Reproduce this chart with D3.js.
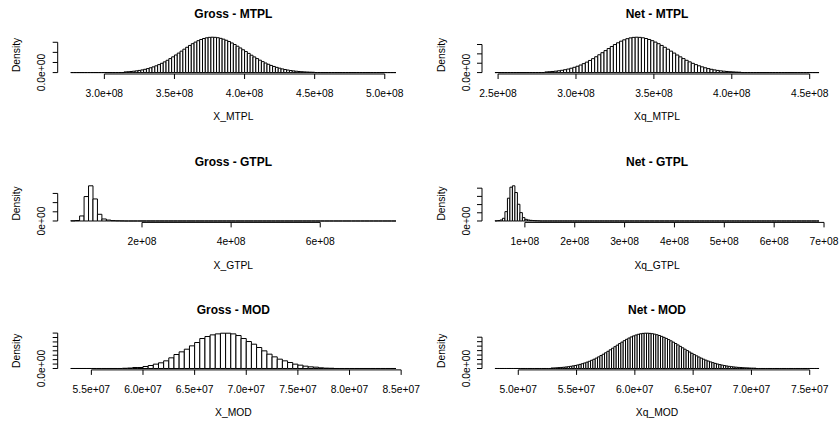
<!DOCTYPE html>
<html>
<head>
<meta charset="utf-8">
<script src="https://cdn.jsdelivr.net/npm/d3@7"></script>
<style>
  html, body { margin: 0; padding: 0; background: #fff; }
  svg { display: block; }
  text { font-family: "Liberation Sans", Arial, Helvetica, sans-serif; fill: #000; }
</style>
</head>
<body>
<svg id="chart" width="839" height="426"></svg>
<script>
// ---------- DATA (densities in units of 1e-8) ----------
const DENSITY_UNIT = 1e-8;

const panelTitles = ["Gross - MTPL", "Net - MTPL", "Gross - GTPL", "Net - GTPL", "Gross - MOD", "Net - MOD"];
const xLabels = ["X_MTPL", "Xq_MTPL", "X_GTPL", "Xq_GTPL", "X_MOD", "Xq_MOD"];

// histogram breaks: [first break, last break, bin width, first listed bin start]
const breaksGrossMTPL = [2.76e8, 5.08e8, 2e6, 3.14e8];
const breaksNetMTPL   = [2.48e8, 4.56e8, 2e6, 2.80e8];
const breaksGrossGTPL = [4e7, 7.7e8, 1e7, 4e7];
const breaksNetGTPL   = [4e7, 6.9e8, 5e6, 4e7];
const breaksGrossMOD  = [5.3e7, 8.45e7, 5e5, 5.8e7];
const breaksNetMOD    = [4.8e7, 7.58e7, 2e5, 5.28e7];

const densGrossMTPL = [0.033,0.042,0.054,0.069,0.086,0.107,0.132,0.162,0.197,0.237,0.283,0.335,0.394,0.459,0.530,0.608,0.691,0.779,0.871,0.965,1.061,1.158,1.252,1.343,1.429,1.508,1.578,1.638,1.686,1.721,1.743,
  1.750,
  1.744,1.725,1.694,1.652,1.599,1.536,1.465,1.388,1.305,1.218,1.129,1.039,0.949,0.860,0.775,0.692,0.614,0.541,0.473,0.411,0.354,0.303,0.258,0.217,0.182,0.151,0.125,0.102,0.083,0.067,0.054,0.043,0.034,0.027,0.021,0.016];

const densNetMTPL = [0.035,0.045,0.059,0.076,0.097,0.122,0.153,0.189,0.232,0.282,0.339,0.404,0.478,0.559,0.648,0.744,0.846,0.952,1.063,1.174,1.285,1.394,1.497,1.592,1.678,1.751,1.811,1.854,1.881,
  1.890,
  1.882,1.859,1.821,1.769,1.704,1.629,1.544,1.451,1.352,1.250,1.146,1.043,0.940,0.841,0.746,0.656,0.573,0.495,0.425,0.362,0.306,0.256,0.212,0.175,0.143,0.116,0.093,0.074,0.059,0.046,0.036,0.027,0.021];

const densGrossGTPL = [0.02,0.05,0.55,2.66,3.83,2.40,0.73,0.22,0.10,0.04,0.02,0.01];

const densNetGTPL = [0.02,0.05,0.12,0.33,1.14,2.78,4.12,4.29,3.47,2.04,1.02,0.41,0.20,0.12,0.08,0.05,0.03,0.02];

const densGrossMOD = [0.10,0.20,0.45,0.45,0.90,1.35,1.96,2.56,3.46,4.81,6.32,7.52,8.72,10.23,11.73,13.54,14.44,15.19,15.64,15.94,
  15.94,15.64,14.89,13.54,12.18,10.98,9.48,7.97,6.47,5.26,4.21,3.46,2.71,1.96,1.50,1.05,0.75,0.60,0.30,0.15,0.10];

const densNetMOD = [0.21,0.25,0.31,0.38,0.47,0.56,0.68,0.81,0.97,1.15,1.35,1.58,1.84,2.14,2.47,2.83,3.23,3.67,4.14,4.65,5.20,5.78,6.39,7.03,7.69,8.37,9.06,9.76,10.45,11.14,11.80,12.45,13.05,13.62,14.13,14.58,14.98,15.30,15.54,15.71,15.79,
  15.79,15.72,15.58,15.38,15.10,14.77,14.38,13.94,13.46,12.93,12.37,11.78,11.17,10.54,9.90,9.26,8.63,8.00,7.38,6.79,6.21,5.66,5.13,4.63,4.16,3.72,3.32,2.94,2.60,2.28,2.00,1.74,1.51,1.31,1.12,0.96,0.82,0.69,0.59,0.49,0.41,0.34,0.29,0.24,0.19,0.16,0.13];

// axis ticks
const xTicksGrossMTPL = [3.0e8, 3.5e8, 4.0e8, 4.5e8, 5.0e8];
const xTickLabelsGrossMTPL = ["3.0e+08", "3.5e+08", "4.0e+08", "4.5e+08", "5.0e+08"];
const xTicksNetMTPL = [2.5e8, 3.0e8, 3.5e8, 4.0e8, 4.5e8];
const xTickLabelsNetMTPL = ["2.5e+08", "3.0e+08", "3.5e+08", "4.0e+08", "4.5e+08"];
const xTicksGrossGTPL = [2e8, 4e8, 6e8];
const xTickLabelsGrossGTPL = ["2e+08", "4e+08", "6e+08"];
const xTicksNetGTPL = [1e8, 2e8, 3e8, 4e8, 5e8, 6e8, 7e8];
const xTickLabelsNetGTPL = ["1e+08", "2e+08", "3e+08", "4e+08", "5e+08", "6e+08", "7e+08"];
const xTicksGrossMOD = [5.5e7, 6.0e7, 6.5e7, 7.0e7, 7.5e7, 8.0e7, 8.5e7];
const xTickLabelsGrossMOD = ["5.5e+07", "6.0e+07", "6.5e+07", "7.0e+07", "7.5e+07", "8.0e+07", "8.5e+07"];
const xTicksNetMOD = [5.0e7, 5.5e7, 6.0e7, 6.5e7, 7.0e7, 7.5e7];
const xTickLabelsNetMOD = ["5.0e+07", "5.5e+07", "6.0e+07", "6.5e+07", "7.0e+07", "7.5e+07"];

const yTicksGrossMTPL = [0, 0.5, 1.0, 1.5];
const yTickLabelsGrossMTPL = ["0.0e+00", "5.0e-09", "1.0e-08", "1.5e-08"];
const yTicksNetMTPL = [0, 0.5, 1.0, 1.5];
const yTickLabelsNetMTPL = ["0.0e+00", "5.0e-09", "1.0e-08", "1.5e-08"];
const yTicksGrossGTPL = [0, 1, 2, 3];
const yTickLabelsGrossGTPL = ["0e+00", "1e-08", "2e-08", "3e-08"];
const yTicksNetGTPL = [0, 1, 2, 3, 4];
const yTickLabelsNetGTPL = ["0e+00", "1e-08", "2e-08", "3e-08", "4e-08"];
const yTicksGrossMOD = [0, 2, 4, 6, 8, 10, 12, 14, 16];
const yTickLabelsGrossMOD = ["0.0e+00", "2.0e-08", "4.0e-08", "6.0e-08", "8.0e-08", "1.0e-07", "1.2e-07", "1.4e-07", "1.6e-07"];
const yTicksNetMOD = [0, 2, 4, 6, 8, 10, 12, 14];
const yTickLabelsNetMOD = ["0.0e+00", "2.0e-08", "4.0e-08", "6.0e-08", "8.0e-08", "1.0e-07", "1.2e-07", "1.4e-07"];

// ---------- LAYOUT ----------
const colX = [[57.7, 409], [482, 832]];
const rowY = [[35.8, 74], [184.4, 222.4], [331.8, 369.9]];

const panels = [
  { breaks: breaksGrossMTPL, dens: densGrossMTPL, xt: xTicksGrossMTPL, xtl: xTickLabelsGrossMTPL, yt: yTicksGrossMTPL, ytl: yTickLabelsGrossMTPL },
  { breaks: breaksNetMTPL,   dens: densNetMTPL,   xt: xTicksNetMTPL,   xtl: xTickLabelsNetMTPL,   yt: yTicksNetMTPL,   ytl: yTickLabelsNetMTPL },
  { breaks: breaksGrossGTPL, dens: densGrossGTPL, xt: xTicksGrossGTPL, xtl: xTickLabelsGrossGTPL, yt: yTicksGrossGTPL, ytl: yTickLabelsGrossGTPL },
  { breaks: breaksNetGTPL,   dens: densNetGTPL,   xt: xTicksNetGTPL,   xtl: xTickLabelsNetGTPL,   yt: yTicksNetGTPL,   ytl: yTickLabelsNetGTPL },
  { breaks: breaksGrossMOD,  dens: densGrossMOD,  xt: xTicksGrossMOD,  xtl: xTickLabelsGrossMOD,  yt: yTicksGrossMOD,  ytl: yTickLabelsGrossMOD },
  { breaks: breaksNetMOD,    dens: densNetMOD,    xt: xTicksNetMOD,    xtl: xTickLabelsNetMOD,    yt: yTicksNetMOD,    ytl: yTickLabelsNetMOD }
];

const svg = d3.select("#chart");
const TICK = 5;
const AXIS_FONT = 10.3;
const TITLE_FONT = 12;
const LABEL_GAP = 9; // R gap.axis ~ one 'm' width

panels.forEach((p, k) => {
  const col = k % 2, row = Math.floor(k / 2);
  const [x0, x1] = colX[col];
  const [top, bottom] = rowY[row];
  const [lo, hi, bw, first] = p.breaks;

  // bins over the full breaks range
  const nb = Math.round((hi - lo) / bw);
  const bins = d3.range(nb).map(i => {
    const a = lo + i * bw;
    const idx = Math.round((a - first) / bw);
    const d = (idx >= 0 && idx < p.dens.length) ? p.dens[idx] * DENSITY_UNIT : 0;
    return { a, b: a + bw, d };
  });

  const pad = 0.04 * (hi - lo);
  const x = d3.scaleLinear().domain([lo - pad, hi + pad]).range([x0, x1]);
  const ymax = d3.max(bins, b => b.d);
  const y = d3.scaleLinear().domain([-0.04 * ymax, 1.04 * ymax]).range([bottom, top]);

  const g = svg.append("g");

  // bars
  g.append("g").selectAll("path").data(bins).join("path")
    .attr("d", b => {
      const xa = x(b.a), xb = x(b.b), y0 = y(0), y1 = y(b.d);
      return `M${xa},${y0}V${y1}H${xb}V${y0}Z`;
    })
    .attr("fill", "#fff")
    .attr("stroke", "#000")
    .attr("stroke-width", 1);

  // x axis (R style: line from first to last tick)
  const xa = g.append("g").attr("transform", `translate(0,${bottom})`);
  xa.append("line")
    .attr("x1", x(p.xt[0])).attr("x2", x(p.xt[p.xt.length - 1]))
    .attr("y1", 0).attr("y2", 0).attr("stroke", "#000");
  xa.selectAll("line.t").data(p.xt).join("line").attr("class", "t")
    .attr("x1", d => x(d)).attr("x2", d => x(d))
    .attr("y1", 0).attr("y2", TICK).attr("stroke", "#000");
  xa.selectAll("text").data(p.xt).join("text")
    .attr("x", d => x(d)).attr("y", 19.3)
    .attr("dy", "0.35em")
    .attr("text-anchor", "middle")
    .style("font-size", AXIS_FONT + "px")
    .text((d, i) => p.xtl[i]);

  // y axis
  const ya = g.append("g").attr("transform", `translate(${x0},0)`);
  const yt = p.yt.map(v => v * DENSITY_UNIT);
  ya.append("line")
    .attr("x1", 0).attr("x2", 0)
    .attr("y1", y(yt[0])).attr("y2", y(yt[yt.length - 1])).attr("stroke", "#000");
  ya.selectAll("line.t").data(yt).join("line").attr("class", "t")
    .attr("x1", 0).attr("x2", -TICK)
    .attr("y1", d => y(d)).attr("y2", d => y(d)).attr("stroke", "#000");
  // labels, skipping overlapping ones (like R)
  let lastEdge = Infinity;
  yt.forEach((v, i) => {
    const cy = y(v);
    const t = ya.append("text")
      .attr("transform", `translate(-16,${cy}) rotate(-90)`)
      .attr("dy", "0.35em")
      .attr("text-anchor", "middle")
      .style("font-size", AXIS_FONT + "px")
      .text(p.ytl[i]);
    const len = t.node().getComputedTextLength();
    if (cy + len / 2 > lastEdge - LABEL_GAP) { t.remove(); }
    else { lastEdge = cy - len / 2; }
  });

  const cx = (x0 + x1) / 2;
  // y label
  g.append("text")
    .attr("transform", `translate(${x0 - 41},${(top + bottom) / 2}) rotate(-90)`)
    .attr("dy", "0.35em")
    .attr("text-anchor", "middle")
    .style("font-size", AXIS_FONT + "px")
    .text("Density");

  // x label
  g.append("text")
    .attr("x", cx).attr("y", bottom + 42.7)
    .attr("dy", "0.35em")
    .attr("text-anchor", "middle")
    .style("font-size", AXIS_FONT + "px")
    .text(xLabels[k]);

  // title
  g.append("text")
    .attr("x", cx).attr("y", top - 22.4)
    .attr("dy", "0.35em")
    .attr("text-anchor", "middle")
    .style("font-size", TITLE_FONT + "px")
    .style("font-weight", "bold")
    .text(panelTitles[k]);
});
</script>
</body>
</html>
